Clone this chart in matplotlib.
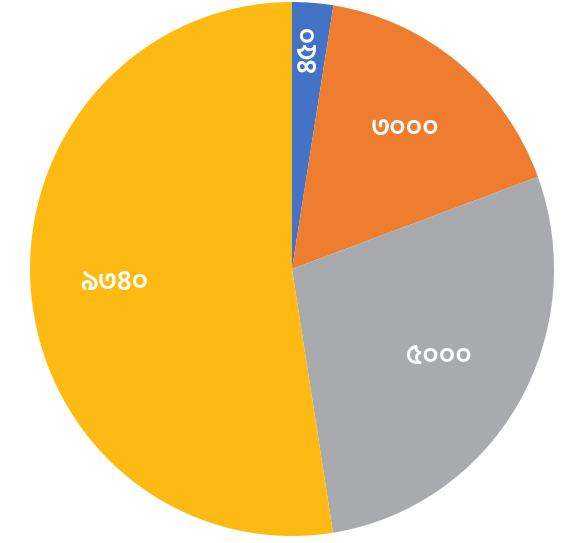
import numpy as np
import matplotlib
matplotlib.use('Agg')
import matplotlib.pyplot as plt

# values of the four slices (Bengali numerals in the picture)
values = [450, 3000, 5000, 9340]
labels = ['৪৫০', '৩০০০', '৫০০০', '৯৩৪০']
colors = ['#4472C4', '#EE7D30', '#A8AAAD', '#FDBA12']

fig = plt.figure(figsize=(5.61, 5.43), dpi=100)
ax = fig.add_axes([0, 0, 1, 1])
wedges, _ = ax.pie(values, colors=colors, startangle=90, counterclock=False,
                   radius=1, center=(0, 0))

label_r = [0.83, 0.68, 0.65, 0.68]
label_rot = [90, 0, 0, 0]
for w, lab, r, rot in zip(wedges, labels, label_r, label_rot):
    ang = np.deg2rad((w.theta1 + w.theta2) / 2)
    ax.text(r * np.cos(ang), r * np.sin(ang), lab, ha='center', va='center',
            rotation=rot, color='white', fontsize=20, fontweight='semibold',
            family=['Hind Siliguri', 'Noto Sans Bengali', 'DejaVu Sans'])

# pie is a bit taller than wide in the picture
ax.set_xlim(-292 / 262, 269 / 262)
ax.set_ylim(-274 / 267, 269 / 267)
ax.set_aspect('auto')
ax.axis('off')

fig.savefig('out.png', dpi=100)
